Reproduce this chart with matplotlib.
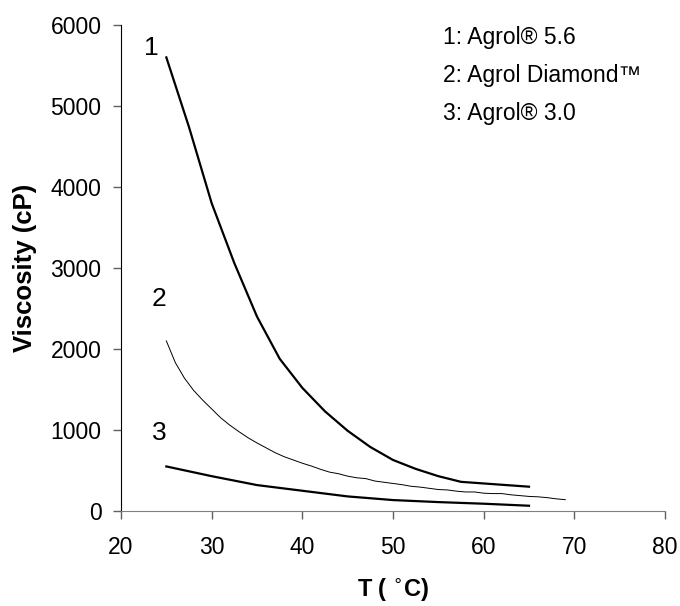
import matplotlib
matplotlib.use("Agg")
import matplotlib.pyplot as plt

plt.rcParams['font.family'] = ['Liberation Sans', 'DejaVu Sans']

# Agrol 5.6 (curve 1)
t1 = [25, 27.5, 30, 32.5, 35, 37.5, 40, 42.5, 45, 47.5, 50, 52.5, 55, 57.5, 65]
v1 = [5600, 4740, 3800, 3060, 2400, 1880, 1520, 1230, 990, 790, 630, 520, 430, 360, 300]

# Agrol Diamond (curve 2)
t2 = [25, 26, 27, 28, 29, 30, 31, 32, 33, 34, 35, 36, 37, 38, 39, 40, 41, 42, 43, 44,
      45, 46, 47, 48, 49, 50, 51, 52, 53, 54, 55, 56, 57, 58, 59, 60, 61, 62, 63, 64,
      65, 66, 67, 68, 69]
v2 = [2100, 1830, 1640, 1490, 1370, 1260, 1150, 1060, 980, 905, 840, 780, 720, 670, 630,
      590, 555, 515, 480, 460, 430, 410, 400, 370, 355, 340, 325, 305, 295, 280,
      265, 260, 245, 235, 235, 220, 215, 215, 200, 190, 180, 175, 165, 150, 140]

# Agrol 3.0 (curve 3)
t3 = [25, 30, 35, 40, 45, 50, 55, 60, 65]
v3 = [550, 430, 320, 250, 180, 135, 110, 90, 65]

legend_lines = ['1: Agrol\u00ae 5.6', '2: Agrol Diamond\u2122', '3: Agrol\u00ae 3.0']

fig = plt.figure(figsize=(6.8, 6.06), dpi=100)
ax = fig.add_axes([121/680, 1 - 511/606, 544/680, 486/606])

ax.plot(t1, v1, color='black', lw=1.6)
ax.plot(t2, v2, color='black', lw=0.7)
ax.plot(t3, v3, color='black', lw=1.6)

ax.text(23.3, 5720, '1', fontsize=19, ha='center', va='center')
ax.text(24.2, 2620, '2', fontsize=19, ha='center', va='center')
ax.text(24.2, 960, '3', fontsize=19, ha='center', va='center')

for i, s in enumerate(legend_lines):
    ax.text(55.5, 5850 - i * 470, s, fontsize=16.5, ha='left', va='center')

ax.set_xlim(20, 80)
ax.set_ylim(0, 6000)
ax.set_xticks(range(20, 81, 10))
ax.set_yticks(range(0, 6001, 1000))

ax.spines['top'].set_visible(False)
ax.spines['right'].set_visible(False)
ax.spines['left'].set_color('black')
ax.spines['bottom'].set_color('#808080')
ax.tick_params(axis='both', direction='out', length=6, width=1, color='#606060', labelsize=16.5)
ax.tick_params(axis='y', pad=8)
ax.tick_params(axis='x', pad=12)

ax.set_ylabel('Viscosity (cP)', fontsize=18.5, fontweight='bold')
ax.set_xlabel(r'T ( $^{\circ}$C)', fontsize=17, fontweight='bold')
ax.yaxis.set_label_coords(-0.154, 0.5)
ax.xaxis.set_label_coords(0.5, -0.136)

fig.savefig('out.png', dpi=100)
